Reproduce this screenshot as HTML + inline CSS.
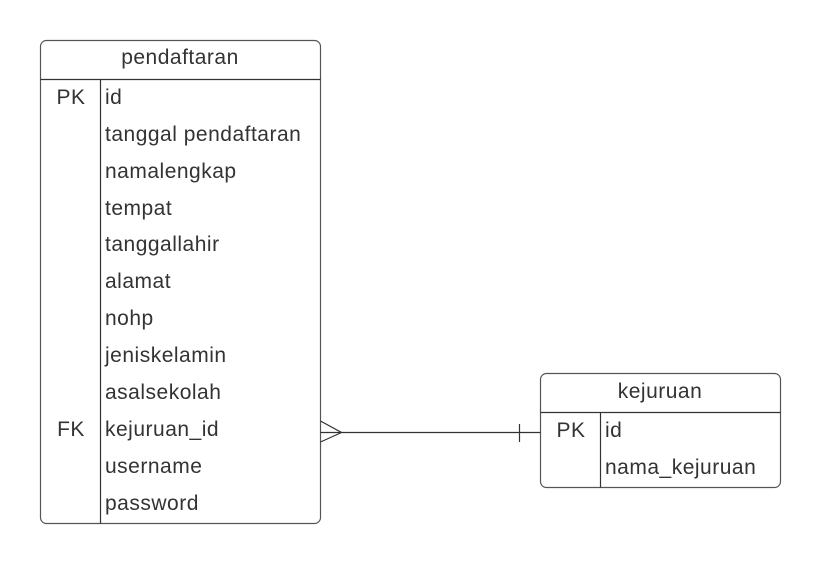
<!DOCTYPE html>
<html><head><meta charset="utf-8"><style>
html,body{margin:0;padding:0;background:#fff;}
svg{display:block;}
text{font-family:"Liberation Sans",sans-serif;font-size:21px;letter-spacing:0.5px;fill:#333;}
</style></head><body>
<svg width="820" height="564" viewBox="0 0 820 564">
<g fill="none" stroke="#555" stroke-width="1.2">
<rect x="40.5" y="40.5" width="280" height="483" rx="6"/>
<line x1="40.5" y1="79.5" x2="320.5" y2="79.5" stroke="#333"/>
<line x1="100.5" y1="79.5" x2="100.5" y2="523.5" stroke="#333"/>
<rect x="540.5" y="373.5" width="240" height="114" rx="6"/>
<line x1="540.5" y1="412.5" x2="780.5" y2="412.5" stroke="#333"/>
<line x1="600.5" y1="412.5" x2="600.5" y2="487.5" stroke="#333"/>
<line x1="320.5" y1="432.5" x2="540.5" y2="432.5" stroke="#333"/>
<polyline points="320.5,421 341.5,432.5 320.5,442" stroke="#333"/>
<line x1="519.5" y1="424" x2="519.5" y2="442" stroke="#333"/>
</g>
<text x="180" y="64" text-anchor="middle">pendaftaran</text>
<text x="71" y="104" text-anchor="middle">PK</text>
<text x="105" y="104">id</text>
<text x="105" y="141">tanggal pendaftaran</text>
<text x="105" y="178">namalengkap</text>
<text x="105" y="215">tempat</text>
<text x="105" y="251">tanggallahir</text>
<text x="105" y="288">alamat</text>
<text x="105" y="325">nohp</text>
<text x="105" y="362">jeniskelamin</text>
<text x="105" y="399">asalsekolah</text>
<text x="71" y="436" text-anchor="middle">FK</text>
<text x="105" y="436">kejuruan_id</text>
<text x="105" y="473">username</text>
<text x="105" y="510">password</text>
<text x="660" y="398" text-anchor="middle">kejuruan</text>
<text x="571" y="437" text-anchor="middle">PK</text>
<text x="605" y="437">id</text>
<text x="605" y="474">nama_kejuruan</text>
</svg>
</body></html>
